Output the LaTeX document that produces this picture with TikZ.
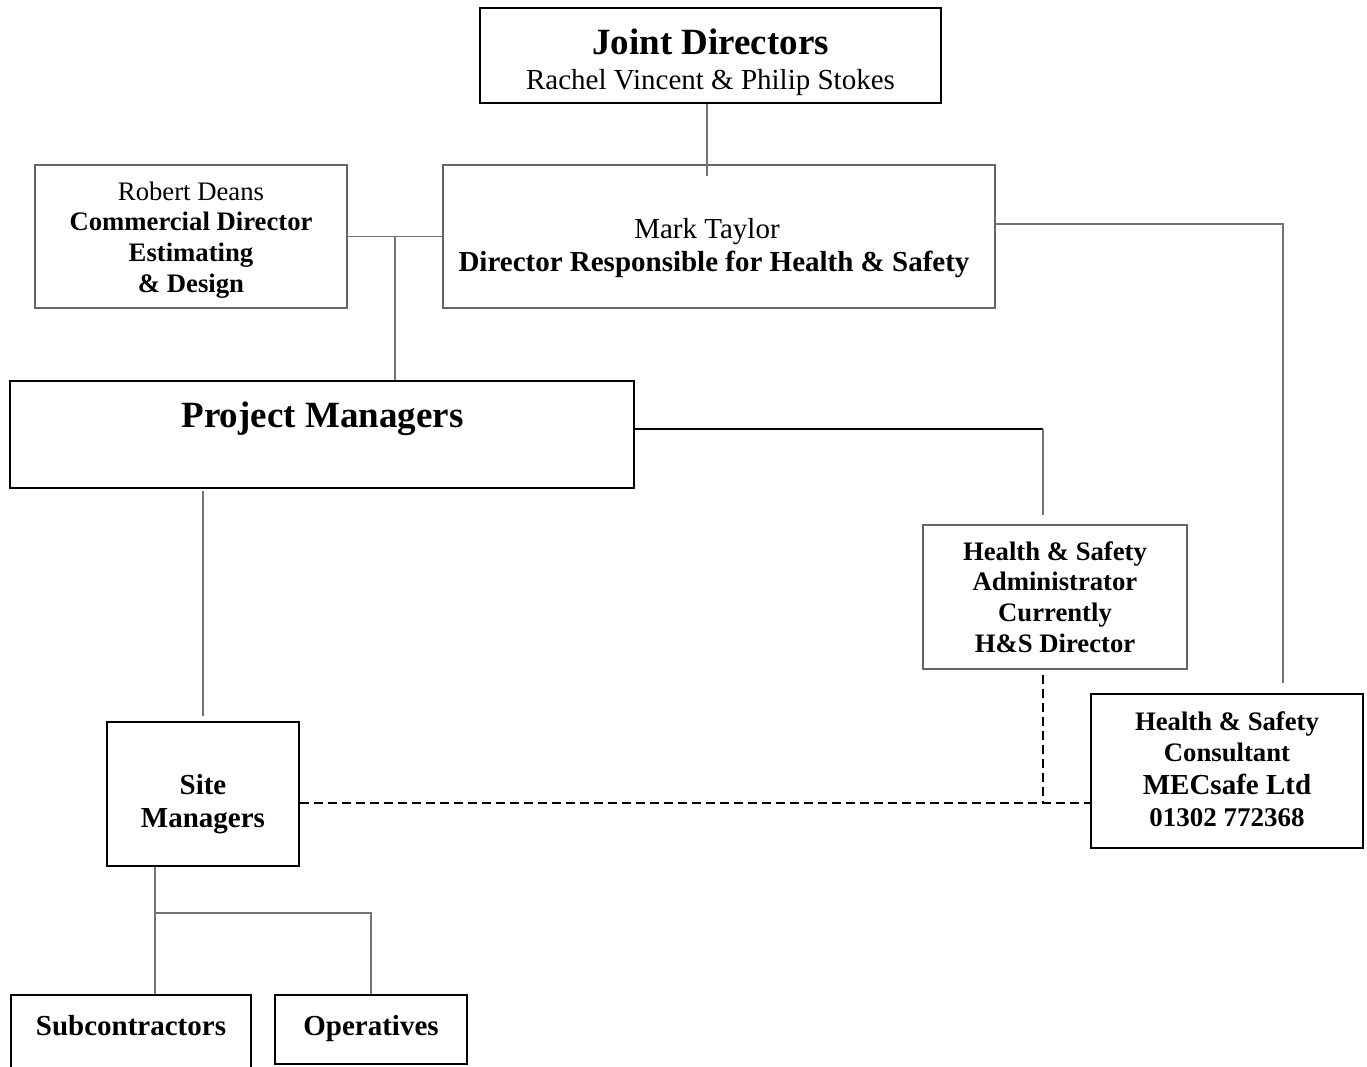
\documentclass[tikz,border=0pt]{standalone}
\usepackage{fontspec}
\setmainfont{Liberation Serif}
\begin{document}
\begin{tikzpicture}[x=1pt,y=-1pt,
  heavybox/.style={draw=black, line width=2pt, inner sep=0pt, rectangle},
  lightbox/.style={draw=black!60, line width=1.2pt, inner sep=0pt, rectangle},
  conn/.style={draw=black!55, line width=1.3pt},
  darkconn/.style={draw=black, line width=1.8pt},
  dashconn/.style={draw=black, line width=1.5pt, dash pattern=on 9pt off 5pt},
  lbl/.style={anchor=base, inner sep=0pt},
  fbig/.style={font=\fontsize{37}{40}\selectfont\bfseries},
  fmid/.style={font=\fontsize{29}{33}\selectfont},
  fmidb/.style={font=\fontsize{29}{33}\selectfont\bfseries},
  fsm/.style={font=\fontsize{26.7}{31}\selectfont},
  fsmb/.style={font=\fontsize{26.7}{31}\selectfont\bfseries},
  fph/.style={font=\fontsize{27}{31}\selectfont\bfseries}]
\useasboundingbox (0,0) rectangle (1367,1066);
\clip (0,0) rectangle (1367,1066);
\fill[white] (0,0) rectangle (1367,1066);

% boxes
\node[heavybox, minimum width=461pt, minimum height=95pt] (jd) at (710.5,55.5) {};
\node[lightbox, minimum width=312pt, minimum height=143pt] (rd) at (191,236.5) {};
\node[lightbox, minimum width=552pt, minimum height=143pt] (mt) at (719,236.5) {};
\node[heavybox, minimum width=624pt, minimum height=107pt] (pm) at (322,434.5) {};
\node[lightbox, minimum width=264pt, minimum height=144pt] (adm) at (1055,597) {};
\node[heavybox, minimum width=272pt, minimum height=154pt] (cons) at (1227,771) {};
\node[heavybox, minimum width=192pt, minimum height=144pt] (sm) at (203,794) {};
\node[heavybox, minimum width=240pt, minimum height=85pt] (sub) at (131,1037.5) {};
\node[heavybox, minimum width=192pt, minimum height=69pt] (op) at (371,1029.5) {};

% texts
\node[lbl, fbig] (jdA) at (710.5,54) {Joint Directors};
\node[lbl, fmid] (jdB) at (710.5,89) {Rachel Vincent \& Philip Stokes};

\node[lbl, fsm] (rdA) at (191,200) {Robert Deans};
\node[lbl, fsmb] (rdB) at (191,230) {Commercial Director};
\node[lbl, fsmb] (rdC) at (191,261) {Estimating};
\node[lbl, fsmb] (rdD) at (191,292) {\& Design};

\node[lbl, fmid] (mtA) at (707,238) {Mark Taylor};
\node[lbl, fmidb] (mtB) at (714,271) {Director Responsible for Health \& Safety};

\node[lbl, fbig] (pmA) at (322.5,427) {Project Managers};

\node[lbl, fsmb] (admA) at (1055,560) {Health \& Safety};
\node[lbl, fsmb] (admB) at (1055,590) {Administrator};
\node[lbl, fsmb] (admC) at (1055,621) {Currently};
\node[lbl, fsmb] (admD) at (1055,652) {H\&S Director};

\node[lbl, fsmb] (consA) at (1227,730) {Health \& Safety};
\node[lbl, fsmb] (consB) at (1227,761) {Consultant};
\node[lbl, fmidb] (consC) at (1227,794) {MECsafe Ltd};
\node[lbl, fph] (consD) at (1227,826) {01302 772368};

\node[lbl, fmidb] (smA) at (203,794) {Site};
\node[lbl, fmidb] (smB) at (203,827) {Managers};

\node[lbl, fmidb] (subA) at (131,1035) {Subcontractors};
\node[lbl, fmidb] (opA) at (371,1035) {Operatives};

% connector helper points
\coordinate (jdend) at (707,176);
\coordinate (rdjoin) at (395,236.5);
\coordinate (mtturn) at (1283,224);
\coordinate (mtend) at (1283,683);
\coordinate (pmturn) at (1043,429);
\coordinate (pmend) at (1043,515);
\coordinate (pmdown) at (203,491);
\coordinate (smup) at (203,716);
\coordinate (admdash) at (1043,675);
\coordinate (dashjoin) at (1043,803);
\coordinate (smbranch) at (155,913);

% connectors
\draw[conn] (jd.south -| jdend) -- (jdend);
\draw[conn] (rd.east) -- (mt.west);
\draw[conn] (rdjoin) -- (rdjoin |- pm.north);
\draw[conn] (mt.east |- mtturn) -| (mtend);
\draw[darkconn] (pm.east |- pmturn) -- (pmturn);
\draw[conn] (pmturn) -- (pmend);
\draw[conn] (pmdown) -- (smup);
\draw[dashconn] (admdash) -- (dashjoin);
\draw[dashconn] (sm.east |- dashjoin) -- (dashjoin -| cons.west);
\draw[conn] (sm.south -| smbranch) -- (smbranch |- sub.north);
\draw[conn] (smbranch) -| (op.north);
\end{tikzpicture}
\end{document}
